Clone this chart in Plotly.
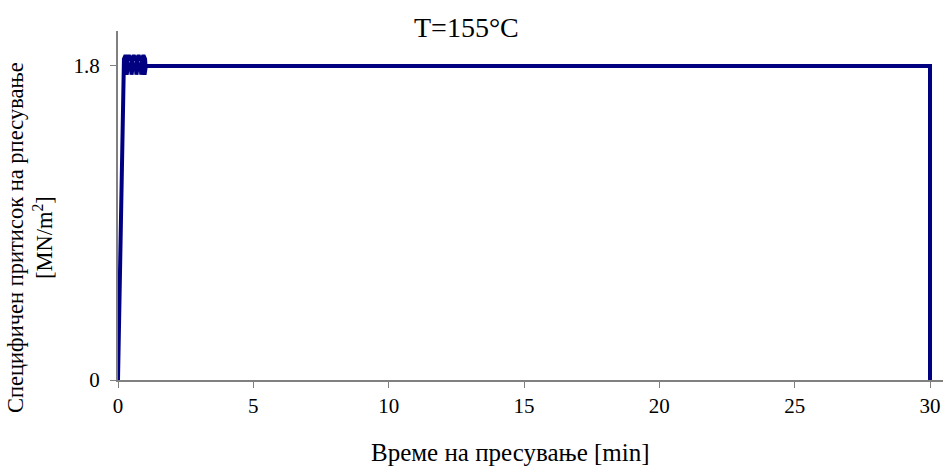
import plotly.graph_objects as go

# Time [min] and specific pressing pressure [MN/m^2]
time_min = [0, 0.20, 0.22, 0.28, 0.34, 0.36, 0.32, 0.30, 0.34, 0.40, 0.46, 0.52, 0.54, 0.50, 0.48, 0.52,
            0.58, 0.64, 0.70, 0.72, 0.68, 0.66, 0.70, 0.76, 0.82, 0.88, 0.90, 0.86, 0.84, 0.88, 0.94,
            1.00, 1.02, 0.98, 0.96, 1.05, 30.0, 30.0]
pressure = [0, 1.80, 1.84, 1.86, 1.84, 1.79, 1.75, 1.79, 1.84, 1.86, 1.84, 1.84, 1.79, 1.75, 1.79, 1.84,
            1.86, 1.84, 1.84, 1.79, 1.75, 1.79, 1.84, 1.86, 1.84, 1.84, 1.79, 1.75, 1.79, 1.84, 1.86,
            1.84, 1.79, 1.75, 1.78, 1.80, 1.80, 0]

x_ticks = [0, 5, 10, 15, 20, 25, 30]
y_ticks = [0, 1.8]
y_tick_labels = ["0", "1.8"]

title_text = "T=155°C"
x_title = "Време на пресување [min]"
y_title = "Специфичен притисок на рпесување<br>[MN/m<sup>2</sup>]"

font_family = "Liberation Serif"

W, H = 943, 466
L, R, T, B = 118, 0, 31, 86
plot_w = W - L - R
plot_h = H - T - B


def px(xp):
    return (xp - L) / plot_w


def py(yp):
    return (H - B - yp) / plot_h


fig = go.Figure()
fig.add_trace(go.Scatter(
    x=time_min, y=pressure, mode="lines",
    line=dict(color="#000080", width=4),
    hoverinfo="skip", showlegend=False,
))

fig.update_layout(
    width=W, height=H,
    margin=dict(l=L, r=R, t=T, b=B, pad=0),
    paper_bgcolor="white", plot_bgcolor="white",
    font=dict(family=font_family, size=21, color="black"),
    xaxis=dict(
        range=[0, 30.48], tickvals=x_ticks, ticks="outside", ticklen=6, tickwidth=1,
        tickcolor="#808080", showline=True, linecolor="#808080", linewidth=2,
        showgrid=False, zeroline=False, tickfont=dict(family=font_family, size=21),
    ),
    yaxis=dict(
        range=[0, 2.0], tickvals=y_ticks, ticktext=y_tick_labels, ticks="outside", ticklen=6,
        tickwidth=1, tickcolor="#808080", showline=True, linecolor="#808080", linewidth=2,
        showgrid=False, zeroline=False, tickfont=dict(family=font_family, size=21),
        ticklabelstandoff=6,
    ),
    annotations=[
        dict(text=title_text, x=px(466), y=py(27), xref="paper", yref="paper", showarrow=False,
             font=dict(family=font_family, size=28), xanchor="center", yanchor="middle"),
        dict(text=x_title, x=px(510), y=py(452), xref="paper", yref="paper", showarrow=False,
             font=dict(family=font_family, size=25), xanchor="center", yanchor="middle"),
        dict(text=y_title, x=px(30), y=py(238), xref="paper", yref="paper", showarrow=False,
             font=dict(family=font_family, size=22.5), textangle=-90, xanchor="center",
             yanchor="middle"),
    ],
)

fig.write_html(
    "out.html",
    config={"displayModeBar": False},
    post_script="document.body.style.margin='0';document.body.style.padding='0';",
)
